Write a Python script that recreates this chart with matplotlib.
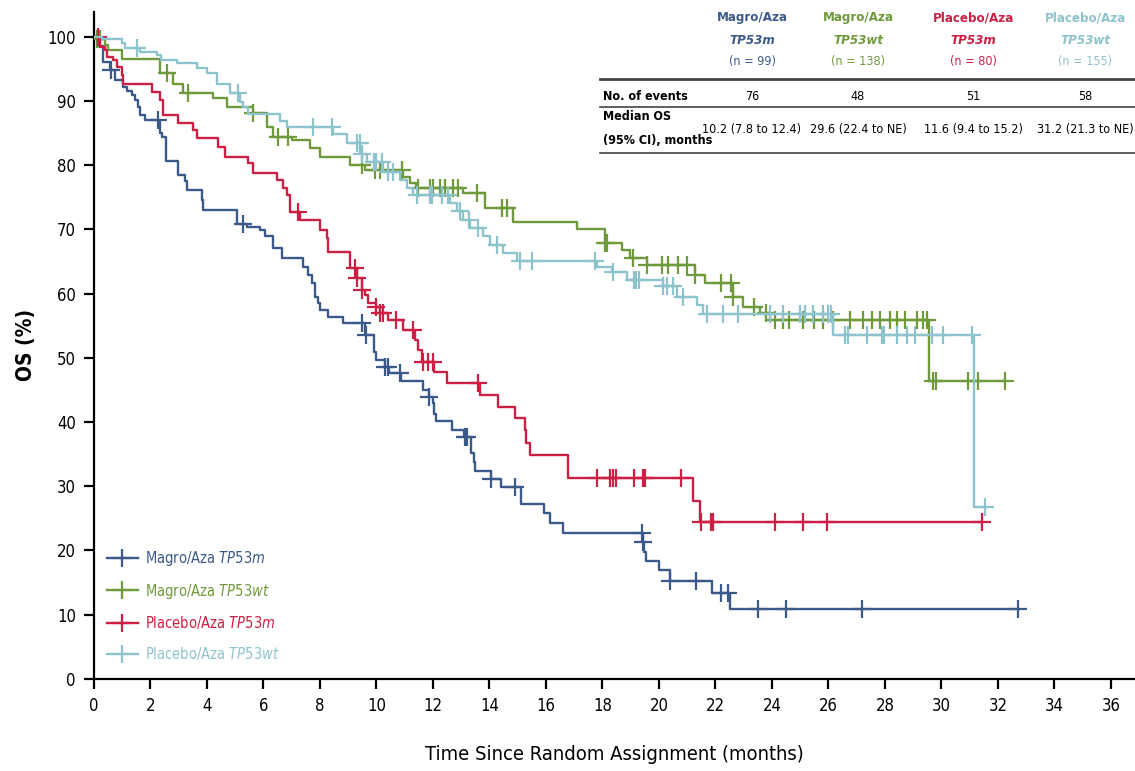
import numpy as np
import matplotlib
matplotlib.use('Agg')
import matplotlib.pyplot as plt
from matplotlib.lines import Line2D

plt.rcParams['font.family'] = ['DejaVu Sans']
plt.rcParams['font.stretch'] = 'condensed'
plt.rcParams['mathtext.fontset'] = 'custom'
plt.rcParams['mathtext.rm'] = 'DejaVu Sans'
plt.rcParams['mathtext.it'] = 'DejaVu Sans:italic'
plt.rcParams['mathtext.bf'] = 'DejaVu Sans:bold'

# ---- data: step start times / survival (%) ----
blue_t = [0, 0.15, 0.33, 0.57, 0.74, 1.04, 1.16, 1.33, 1.45, 1.57, 1.63, 1.81, 2.34, 2.4, 2.55,
          2.99, 3.22, 3.28, 3.81, 3.87, 5.05, 5.4, 5.88, 6.05, 6.35, 6.64, 7.4, 7.58, 7.7, 7.82,
          7.94, 8.0, 8.29, 8.8, 9.6, 9.9, 10.0, 10.3, 10.45, 10.86, 11.66, 11.85, 12.0, 12.05,
          12.1, 12.69, 13.1, 13.35, 13.45, 13.49, 14.04, 14.42, 15.1, 15.94, 16.15, 16.61,
          19.42, 19.47, 19.53, 20.0, 20.4, 21.87, 22.5]
blue_v = [100, 98.5, 96.1, 94.8, 93.3, 92.2, 91.5, 90.9, 90.1, 89.1, 87.8, 87.0, 85.0, 84.4, 80.6,
          78.5, 77.5, 76.1, 74.6, 73.0, 70.9, 70.4, 69.9, 68.9, 67.1, 65.5, 64.2, 62.9, 61.6, 59.5,
          58.5, 57.4, 56.4, 55.4, 53.5, 50.9, 49.6, 48.6, 47.6, 46.3, 45.0, 43.9, 42.9, 41.3,
          40.2, 38.8, 37.6, 35.1, 33.8, 32.4, 31.1, 29.9, 27.2, 25.8, 24.2, 22.7,
          21.3, 19.7, 18.3, 16.9, 15.2, 13.4, 10.8]
blue_end = 32.7
blue_cens = [0.6, 2.28, 5.29, 9.47, 9.62, 10.3, 10.4, 10.83, 11.87, 13.13, 13.2, 14.04, 14.9,
             19.4, 19.45, 20.4, 21.3, 22.2, 22.45, 23.5, 24.5, 27.2, 32.7]

green_t = [0, 0.05, 0.4, 0.51, 0.99, 2.34, 2.81, 3.16, 4.22, 4.7, 5.64, 6.11, 6.35, 7.0, 7.65,
           8.0, 9.06, 9.6, 10.95, 11.19, 11.4, 13.07, 13.84, 14.84, 17.09, 18.1, 18.68, 18.97,
           19.56, 21.27, 21.63, 22.63, 22.98, 23.58, 23.93, 29.57]
green_v = [100, 99.7, 98.7, 97.9, 96.6, 94.3, 92.7, 91.2, 90.4, 89.1, 88.1, 86.0, 84.4, 83.9, 82.6,
           81.3, 80.0, 79.2, 78.2, 77.2, 76.4, 75.6, 73.3, 71.2, 70.0, 67.8, 66.8, 65.5,
           64.4, 62.9, 61.6, 59.5, 57.9, 56.9, 55.8, 46.4]
green_end = 32.25
green_cens = [0.1, 0.2, 2.57, 3.33, 5.64, 6.52, 6.88, 9.47, 9.96, 10.12, 10.89, 11.48, 11.9, 12.01,
              12.25, 12.42, 12.72, 12.9, 13.55, 14.43, 14.61, 18.1, 18.15, 19.09, 19.56, 20.09,
              20.33, 20.68, 20.98, 21.27, 22.2, 22.55, 22.63, 23.38, 23.78, 24.1, 24.4, 24.6,
              25.1, 25.5, 25.82, 26.17, 26.76, 27.23, 27.53, 27.82, 28.18, 28.41, 28.71, 29.12,
              29.36, 29.48, 29.7, 29.8, 30.95, 31.3, 32.25]

red_t = [0, 0.21, 0.39, 0.45, 0.68, 0.8, 0.98, 1.04, 2.04, 2.34, 2.45, 2.99, 3.51, 3.64, 4.4,
         4.64, 5.46, 5.64, 6.47, 6.7, 6.82, 6.94, 7.29, 8.0, 8.24, 8.29, 9.06, 9.3, 9.47, 9.59,
         9.7, 10.0, 10.11, 10.41, 10.93, 11.35, 11.48, 11.6, 12.04, 12.51, 13.65, 14.3, 14.9,
         15.25, 15.31, 15.43, 16.77, 21.2, 21.45]
red_v = [100, 98.4, 97.9, 96.9, 96.4, 95.3, 94.0, 92.7, 91.4, 90.1, 87.8, 86.5, 85.5, 84.2, 82.9,
         81.3, 80.3, 78.7, 77.7, 76.4, 75.3, 72.7, 71.4, 69.9, 68.6, 66.5, 63.9, 62.4, 60.5, 59.8,
         58.5, 57.9, 56.9, 55.9, 54.3, 52.8, 51.2, 49.4, 47.8, 46.0, 44.2, 42.4, 40.6,
         38.7, 36.7, 34.9, 31.3, 27.7, 24.4]
red_end = 31.42
red_cens = [0.15, 7.23, 9.24, 9.3, 9.47, 10.0, 10.11, 10.23, 10.7, 11.3, 11.66, 11.83, 12.0,
            13.6, 17.79, 18.27, 18.37, 18.49, 19.1, 19.42, 19.5, 20.77, 21.5, 21.85, 21.9,
            24.1, 25.1, 25.96, 31.42]

cyan_t = [0, 0.3, 0.98, 1.1, 1.63, 2.22, 2.39, 2.93, 3.63, 3.99, 4.34, 4.82, 5.17, 5.29, 5.46,
          6.6, 6.85, 8.47, 8.94, 9.42, 9.65, 10.24, 10.83, 11.07, 11.3, 12.6, 12.84, 13.07,
          13.31, 13.78, 14.02, 14.49, 14.96, 17.79, 18.33, 18.86, 20.15, 20.63, 21.33, 21.57,
          26.17, 31.15]
cyan_v = [100, 99.6, 99.0, 98.2, 97.7, 97.1, 96.4, 95.9, 95.1, 94.3, 92.7, 91.2, 89.9, 89.1, 88.0,
          86.8, 86.0, 84.9, 83.4, 81.8, 80.5, 79.0, 77.7, 76.4, 75.3, 74.1, 72.8, 71.4,
          70.2, 68.9, 67.6, 66.3, 65.0, 64.2, 63.4, 62.1, 61.1, 59.5, 58.2, 56.8,
          53.5, 26.8]
cyan_end = 31.54
cyan_cens = [1.51, 5.11, 7.76, 8.41, 9.3, 9.4, 9.5, 9.9, 10.0, 10.2, 10.4, 10.6, 11.42, 11.9,
             11.95, 12.31, 12.54, 12.96, 13.27, 13.6, 14.25, 15.08, 15.5, 17.73, 18.38, 19.1,
             19.2, 19.3, 20.15, 20.3, 20.5, 20.86, 21.69, 22.28, 22.81, 23.93, 24.4, 24.99,
             25.17, 25.46, 25.8, 26.0, 26.1, 26.6, 26.7, 27.35, 27.9, 27.95, 28.41, 28.77,
             29.06, 29.65, 30.07, 31.07, 31.54]

arms = ['Magro/Aza', 'Magro/Aza', 'Placebo/Aza', 'Placebo/Aza']
genotypes = ['TP53m', 'TP53wt', 'TP53m', 'TP53wt']
n_pts = [99, 138, 80, 155]
n_events = ['76', '48', '51', '58']
median_os = ['10.2 (7.8 to 12.4)', '29.6 (22.4 to NE)', '11.6 (9.4 to 15.2)', '31.2 (21.3 to NE)']

colors = ['#3c5a89', '#6f9a3b', '#cd1f43', '#8dc3cc']

x_ticks = np.arange(0, 37, 2)
y_ticks = np.arange(0, 101, 10)


def km_at(ts, vs, t):
    idx = np.searchsorted(np.array(ts), np.array(t), side='right') - 1
    return np.array(vs)[idx]


fig = plt.figure(figsize=(11.35, 7.71), dpi=100)
ax = fig.add_axes([0.0828, 0.1197, 0.9172, 0.8647])

curves = [(blue_t, blue_v, blue_end, blue_cens),
          (green_t, green_v, green_end, green_cens),
          (red_t, red_v, red_end, red_cens),
          (cyan_t, cyan_v, cyan_end, cyan_cens)]
order = [0, 2, 1, 3]
for i in order:
    ts, vs, end, cens = curves[i]
    tt = list(ts) + [end]
    vv = list(vs) + [vs[-1]]
    ax.step(tt, vv, where='post', color=colors[i], lw=1.7, zorder=3 + i)
    ax.plot(cens, km_at(ts, vs, cens), linestyle='none', marker='+', ms=13, mew=1.6,
            color=colors[i], zorder=3 + i)

ax.set_xlim(0, 36.85)
ax.set_ylim(0, 103.85)
ax.set_xticks(x_ticks)
ax.set_yticks(y_ticks)
ax.tick_params(axis='both', direction='out', length=7, width=1.6, labelsize=12, pad=6)
for s in ['top', 'right']:
    ax.spines[s].set_visible(False)
for s in ['left', 'bottom']:
    ax.spines[s].set_linewidth(1.6)
ax.set_ylabel('OS (%)', fontsize=15, fontweight='bold', labelpad=8)
ax.set_xlabel('Time Since Random Assignment (months)', fontsize=14.5, labelpad=22)

# legend
handles = [Line2D([0], [0], color=c, lw=1.7, marker='+', ms=13, mew=1.6) for c in colors]
labels = ['%s $\\mathit{%s}$' % (a, g) for a, g in zip(arms, genotypes)]
leg = ax.legend(handles, labels, loc='lower left', bbox_to_anchor=(0.0, 0.005),
                frameon=False, fontsize=10.5, handlelength=2.1, handletextpad=0.5,
                labelspacing=0.95)
for txt, c in zip(leg.get_texts(), colors):
    txt.set_color(c)

# summary table (figure coords)
W, H = 1135.0, 771.0
col_x = [752, 858, 973, 1085]
for cx, a, g, n, c in zip(col_x, arms, genotypes, n_pts, colors):
    fig.text(cx / W, 1 - 18 / H, a, color=c, ha='center', va='center', fontsize=9.5, fontweight='bold')
    fig.text(cx / W, 1 - 40 / H, g, color=c, ha='center', va='center', fontsize=9.5,
             fontweight='bold', style='italic')
    fig.text(cx / W, 1 - 62 / H, '(n = %d)' % n, color=c, ha='center', va='center', fontsize=9)
for cx, e, m in zip(col_x, n_events, median_os):
    fig.text(cx / W, 1 - 96 / H, e, ha='center', va='center', fontsize=9)
    fig.text(cx / W, 1 - 129 / H, m, ha='center', va='center', fontsize=9)
fig.text(603 / W, 1 - 96 / H, 'No. of events', ha='left', va='center', fontsize=9, fontweight='bold')
fig.text(603 / W, 1 - 117 / H, 'Median OS', ha='left', va='center', fontsize=9, fontweight='bold')
fig.text(603 / W, 1 - 140 / H, '(95% CI), months', ha='left', va='center', fontsize=9,
         fontweight='bold')
for yl, lw in [(79, 2.0), (107, 1.2), (153, 1.2)]:
    fig.add_artist(Line2D([600 / W, 1.0], [1 - yl / H, 1 - yl / H], color='#444444', lw=lw))

fig.savefig('out.png', dpi=100)
